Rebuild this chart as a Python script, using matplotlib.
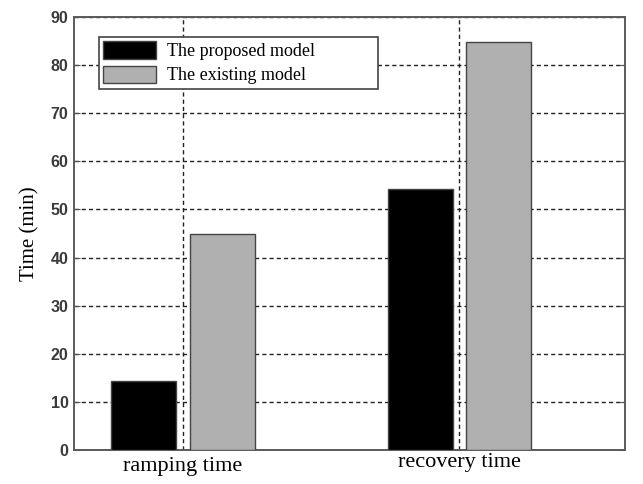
import matplotlib
matplotlib.use("Agg")
import matplotlib.pyplot as plt
import numpy as np

categories = ["ramping time", "recovery time"]
proposed = [14.3, 54.3]
existing = [44.8, 84.8]
series_names = ["The proposed model", "The existing model"]
yticks = list(range(0, 91, 10))

tickfont = "Liberation Sans"
serif = "Liberation Serif"

fig = plt.figure(figsize=(6.43, 4.84), dpi=100)
ax = fig.add_axes([0.1151, 0.0702, 0.8569, 0.8946])

x = np.arange(1, len(categories) + 1)
w = 0.235
off = 0.142
ax.bar(x - off, proposed, w, color="black", edgecolor="#444444", linewidth=1.0,
       label=series_names[0], zorder=3)
ax.bar(x + off, existing, w, color="#b0b0b0", edgecolor="#444444", linewidth=1.0,
       label=series_names[1], zorder=3)

ax.set_xlim(0.605, 2.6)
ax.set_ylim(0, 90)
ax.set_yticks(yticks)
ax.set_xticks(x)
ax.set_xticklabels(categories, fontfamily=serif, fontsize=16)
labs = ax.get_xticklabels()
labs[1].set_y(0.009)
for lab in ax.get_yticklabels():
    lab.set_fontfamily(tickfont)
    lab.set_fontsize(11.5)
    lab.set_fontweight("bold")
    lab.set_color("#3a3a3a")
ax.tick_params(axis="x", length=0, pad=5)
ax.tick_params(axis="y", direction="in", length=4, color="#555555", pad=4, right=True)
ax.grid(True, color="#222222", linestyle=(0, (3, 2.2)), linewidth=1.0, zorder=1)
ax.set_axisbelow(True)
for s in ax.spines.values():
    s.set_color("#5a5a5a")
    s.set_linewidth(1.4)

ax.set_ylabel("Time (min)", fontfamily=serif, fontsize=15, labelpad=8)

leg = ax.legend(loc="upper left", bbox_to_anchor=(0.045, 0.754, 0.506, 0.2), mode="expand",
                prop={"family": serif, "size": 13},
                fancybox=False, framealpha=1, edgecolor="#444444", borderpad=0.25,
                handlelength=2.94, handleheight=1.1, handletextpad=0.61, labelspacing=0.3,
                borderaxespad=0)
leg.get_frame().set_linewidth(1.2)
fig.savefig("out.png", dpi=100)
